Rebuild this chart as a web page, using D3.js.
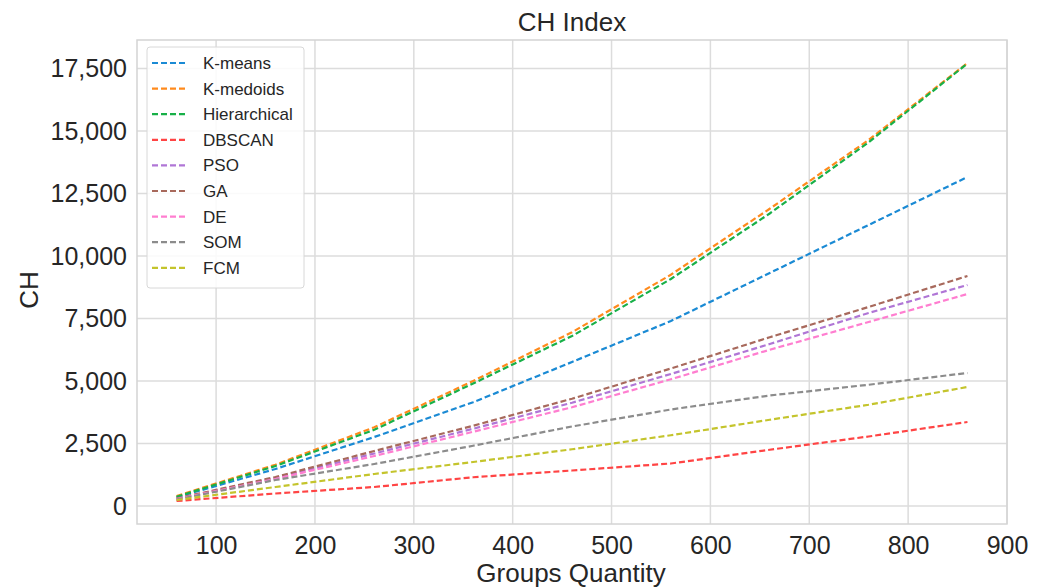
<!DOCTYPE html>
<html>
<head>
<meta charset="utf-8">
<script src="https://cdn.jsdelivr.net/npm/d3@7"></script>
<style>
  body { margin: 0; background: #fff; }
  svg { display: block; font-family: "Liberation Sans", Arial, sans-serif; }
</style>
</head>
<body>
<svg id="chart" width="1046" height="588"></svg>
<script>
// group counts on the x axis
var groups = [60, 160, 260, 360, 460, 560, 660, 760, 860];

var kMeans       = [350, 1480, 2760, 4150, 5760, 7400, 9320, 11240, 13160];
var kMedoids     = [400, 1650, 3150, 5000, 6950, 9250, 11890, 14640, 17720];
var hierarchical = [370, 1600, 3050, 4900, 6800, 9080, 11700, 14550, 17700];
var dbscan       = [200, 500, 760, 1150, 1420, 1700, 2250, 2780, 3360];
var pso          = [290, 1120, 2100, 3090, 4130, 5280, 6480, 7720, 8840];
var ga           = [300, 1160, 2200, 3210, 4290, 5500, 6750, 7960, 9200];
var de           = [280, 1080, 2000, 2970, 3950, 5070, 6250, 7360, 8480];
var som          = [260, 1040, 1680, 2410, 3180, 3860, 4420, 4850, 5320];
var fcm          = [240, 760, 1280, 1760, 2270, 2830, 3450, 4050, 4760];

var names  = ["K-means", "K-medoids", "Hierarchical", "DBSCAN", "PSO", "GA", "DE", "SOM", "FCM"];
var colors = ["#1a8ad4", "#ff8a1c", "#18b048", "#ff4444", "#b076d6", "#a8695c", "#ff7ed0", "#8c8c8c", "#c4c42c"];
var xTicks = [100, 200, 300, 400, 500, 600, 700, 800, 900];
var yTicks = [0, 2500, 5000, 7500, 10000, 12500, 15000, 17500];

var series = [kMeans, kMedoids, hierarchical, dbscan, pso, ga, de, som, fcm].map(function(vals, i) {
  return { name: names[i], color: colors[i], values: vals.map(function(v, j) { return [groups[j], v]; }) };
});

var svg = d3.select("#chart");
var plotL = 137, plotR = 1007, plotT = 40, plotB = 524;

var x = d3.scaleLinear().domain([20, 900]).range([plotL, plotR]);
var y = d3.scaleLinear().domain([-720, 18640]).range([plotB, plotT]);

var grid = svg.append("g");
grid.selectAll(".gx").data(xTicks).enter().append("line")
  .attr("x1", function(d) { return x(d); }).attr("x2", function(d) { return x(d); })
  .attr("y1", plotT).attr("y2", plotB)
  .attr("stroke", "#dcdcdc").attr("stroke-width", 1.5);
grid.selectAll(".gy").data(yTicks).enter().append("line")
  .attr("x1", plotL).attr("x2", plotR)
  .attr("y1", function(d) { return y(d); }).attr("y2", function(d) { return y(d); })
  .attr("stroke", "#dcdcdc").attr("stroke-width", 1.5);

svg.append("rect")
  .attr("x", plotL).attr("y", plotT).attr("width", plotR - plotL).attr("height", plotB - plotT)
  .attr("fill", "none").attr("stroke", "#d4d4d4").attr("stroke-width", 1.5);

var xAxis = svg.append("g").attr("transform", "translate(0," + plotB + ")")
  .call(d3.axisBottom(x).tickValues(xTicks).tickSize(0).tickPadding(12));
var yAxis = svg.append("g").attr("transform", "translate(" + plotL + ",0)")
  .call(d3.axisLeft(y).tickValues(yTicks).tickSize(0).tickPadding(10).tickFormat(d3.format(",")));
[xAxis, yAxis].forEach(function(a) {
  a.select(".domain").remove();
  a.selectAll("text").attr("font-size", 25).attr("fill", "#262626")
    .attr("font-family", "Liberation Sans, Arial, sans-serif");
});

var line = d3.line().x(function(d) { return x(d[0]); }).y(function(d) { return y(d[1]); });

svg.append("g").selectAll("path").data(series).enter().append("path")
  .attr("d", function(d) { return line(d.values); })
  .attr("fill", "none")
  .attr("stroke", function(d) { return d.color; })
  .attr("stroke-width", 2.2)
  .attr("stroke-dasharray", "6,3");

svg.append("text").attr("x", 572).attr("y", 31).attr("text-anchor", "middle")
  .attr("font-size", 26).attr("fill", "#262626").text("CH Index");
svg.append("text").attr("x", 571).attr("y", 582).attr("text-anchor", "middle")
  .attr("font-size", 26).attr("fill", "#262626").text("Groups Quantity");
svg.append("text").attr("transform", "translate(38,290) rotate(-90)").attr("text-anchor", "middle")
  .attr("font-size", 26).attr("fill", "#262626").text("CH");

var legend = svg.append("g");
legend.append("rect")
  .attr("x", 147).attr("y", 47).attr("width", 157).attr("height", 241).attr("rx", 3)
  .attr("fill", "#fff").attr("fill-opacity", 0.85).attr("stroke", "#d8d8d8").attr("stroke-width", 1);
var items = legend.selectAll(".item").data(series).enter().append("g")
  .attr("transform", function(d, i) { return "translate(0," + (63 + i * 25.6) + ")"; });
items.append("line").attr("x1", 152).attr("x2", 187).attr("y1", 0).attr("y2", 0)
  .attr("stroke", function(d) { return d.color; }).attr("stroke-width", 2.2).attr("stroke-dasharray", "6,3");
items.append("text").attr("x", 203).attr("y", 6).attr("font-size", 17).attr("fill", "#262626")
  .text(function(d) { return d.name; });
</script>
</body>
</html>
